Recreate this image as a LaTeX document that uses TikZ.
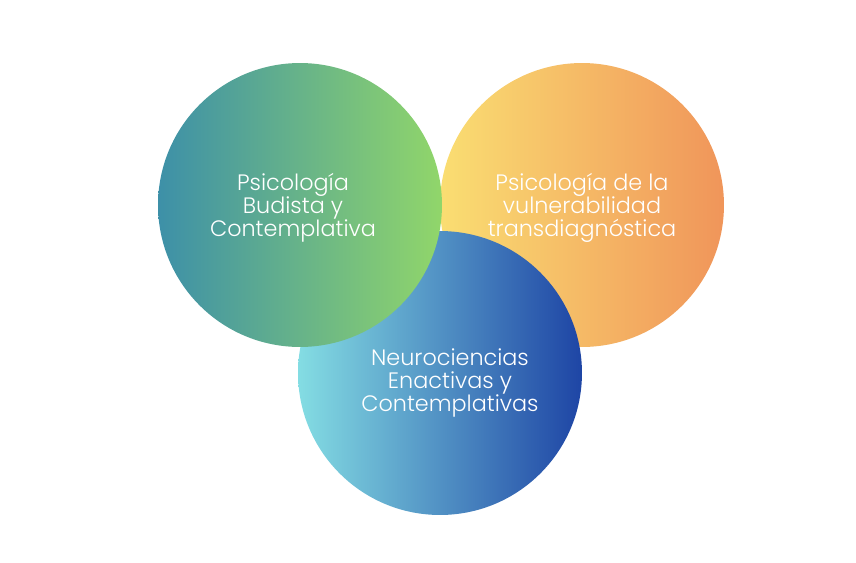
\documentclass[tikz,border=0pt]{standalone}
\usepackage{fontspec}
\setmainfont{Poppins}[UprightFont={* Light}]
\usepackage{tikz}
\usetikzlibrary{positioning}
\definecolor{tealL}{HTML}{3D90A8}
\definecolor{greenR}{HTML}{91D66A}
\definecolor{yellowL}{HTML}{FADE72}
\definecolor{orangeR}{HTML}{F0955A}
\definecolor{cyanL}{HTML}{84DDE3}
\definecolor{blueR}{HTML}{1E45A5}

\begin{document}
\begin{tikzpicture}[x=0.02cm, y=-0.02cm,
    bubble/.style={circle, draw=none, minimum size=5.68cm, inner sep=0pt},
    caption/.style={text=white, align=center, font=\fontsize{12.7}{13.2}\selectfont}]
  \useasboundingbox (0,0) rectangle (856,562);
  % circles, back to front
  \node[bubble, left color=yellowL, right color=orangeR] (vuln) at (582,205) {};
  \node[bubble, left color=cyanL, right color=blueR] (neuro) at (440,373) {};
  \node[bubble, left color=tealL, right color=greenR] (budista) at (300,205) {};
  % labels
  \node[caption] (budistatxt) at (293,208) {Psicología\\Budista y\\Contemplativa};
  \node[caption] (vulntxt) at (582,208) {Psicología de la\\vulnerabilidad\\transdiagnóstica};
  \node[caption] (neurotxt) at (450,383) {Neurociencias\\Enactivas y\\Contemplativas};
\end{tikzpicture}
\end{document}
